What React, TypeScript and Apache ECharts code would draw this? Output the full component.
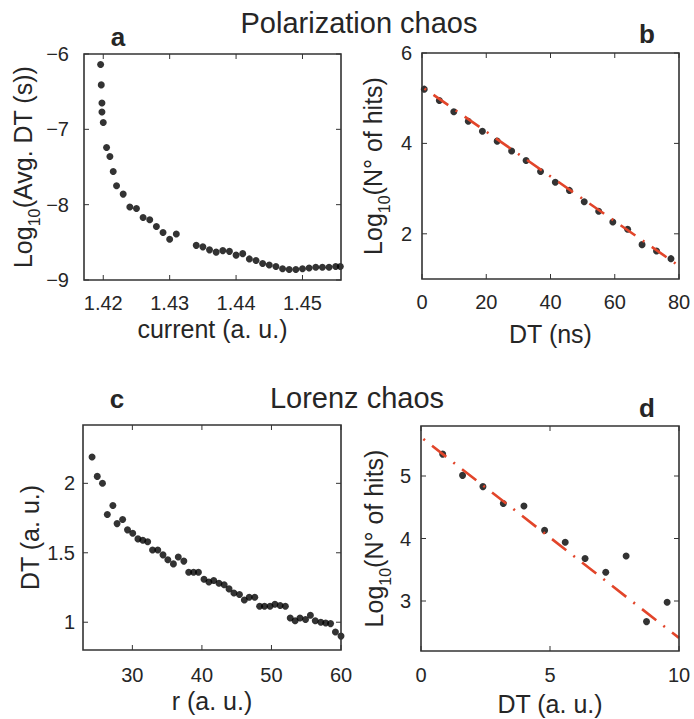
import React, { useEffect, useRef } from "react";
import * as echarts from "echarts";

// ---------- Data ----------
// Panel a: Polarization chaos, Log10(avg DT) vs current
const aCurrent = [
  1.4196, 1.4197, 1.4198, 1.4198, 1.42, 1.4205, 1.421, 1.4215, 1.422, 1.423,
  1.424, 1.425, 1.426, 1.427, 1.428, 1.429, 1.43, 1.431, 1.434, 1.435, 1.436,
  1.437, 1.438, 1.439, 1.44, 1.441, 1.442, 1.443, 1.444, 1.445, 1.446, 1.447,
  1.448, 1.449, 1.45, 1.451, 1.452, 1.453, 1.454, 1.455, 1.4557,
];
const aLogDT = [
  -6.14, -6.41, -6.65, -6.77, -6.91, -7.24, -7.36, -7.56, -7.75, -7.86, -8.03,
  -8.05, -8.17, -8.2, -8.29, -8.37, -8.46, -8.39, -8.54, -8.56, -8.6, -8.63,
  -8.61, -8.62, -8.67, -8.65, -8.72, -8.74, -8.78, -8.8, -8.82, -8.85, -8.86,
  -8.86, -8.85, -8.84, -8.83, -8.83, -8.83, -8.82, -8.82,
];

// Panel b: Polarization chaos, histogram of DT
const bDT = [0.7, 5.4, 9.9, 14.4, 18.8, 23.4, 27.9, 32.4, 36.9, 41.5, 45.9, 50.5, 55.0, 59.4, 64.0, 68.5, 73.0, 77.5];
const bLogHits = [5.2, 4.95, 4.7, 4.49, 4.27, 4.05, 3.83, 3.62, 3.38, 3.14, 2.96, 2.71, 2.5, 2.26, 2.1, 1.76, 1.62, 1.45];
const bFitX = [0, 80];
const bFitY = [5.25, 1.29];

// Panel c: Lorenz chaos, DT vs r
const cR = [
  24.2, 24.95, 25.7, 26.4, 27.2, 27.8, 28.6, 29.3, 30.05, 30.8, 31.5, 32.2,
  32.9, 33.65, 34.4, 35.1, 35.9, 36.6, 37.4, 38.1, 38.8, 39.5, 40.3, 41.0,
  41.7, 42.45, 43.2, 43.9, 44.6, 45.4, 46.1, 46.8, 47.6, 48.3, 49.0, 49.8,
  50.5, 51.25, 52.0, 52.7, 53.4, 54.1, 54.9, 55.6, 56.3, 57.1, 57.8, 58.5,
  59.2, 60.0,
];
const cDT = [
  2.19, 2.05, 2.0, 1.775, 1.84, 1.71, 1.74, 1.665, 1.64, 1.6, 1.59, 1.58,
  1.52, 1.52, 1.485, 1.45, 1.42, 1.47, 1.44, 1.36, 1.36, 1.36, 1.31, 1.29,
  1.3, 1.28, 1.27, 1.24, 1.21, 1.2, 1.16, 1.18, 1.18, 1.115, 1.115, 1.115,
  1.13, 1.12, 1.115, 1.03, 1.01, 1.03, 1.02, 1.05, 1.01, 1.0, 0.995, 0.99,
  0.93, 0.9,
];

// Panel d: Lorenz chaos, histogram of DT
const dDT = [0.84, 1.61, 2.4, 3.19, 3.99, 4.79, 5.59, 6.36, 7.16, 7.95, 8.74, 9.54];
const dLogHits = [5.35, 5.01, 4.83, 4.56, 4.52, 4.13, 3.94, 3.68, 3.46, 3.72, 2.67, 2.98];
const dFitX = [0, 10];
const dFitY = [5.62, 2.41];

// Tick values
const aXTicks = [1.42, 1.43, 1.44, 1.45];
const aYTicks = [-9, -8, -7, -6];
const bXTicks = [0, 20, 40, 60, 80];
const bYTicks = [2, 4, 6];
const cXTicks = [30, 40, 50, 60];
const cYTicks = [1, 1.5, 2];
const dXTicks = [0, 5, 10];
const dYTicks = [3, 4, 5];

// Texts
const titleTop = "Polarization chaos";
const titleBottom = "Lorenz chaos";
const panelLetters = ["a", "b", "c", "d"];
const xNames = ["current (a. u.)", "DT (ns)", "r (a. u.)", "DT (a. u.)"];
const yNames = [
  "{m|Log}{s|10}{m|(Avg. DT (s))}",
  "{m|Log}{s|10}{m|(N° of hits)}",
  "{m|DT (a. u.)}",
  "{m|Log}{s|10}{m|(N° of hits)}",
];

// ---------- Styling ----------
const FONT = "'Liberation Sans', Arial, Helvetica, sans-serif";
const INK = "#262626";
const AXIS = "#333333";
const DOT = "#000000";
const RED = "#e2452a";
const FRAME_W = 1.6;
const TICK_LEN = 5;

const pairs = (xs: number[], ys: number[]) => xs.map((x, i) => [x, ys[i]]);
const fmt = (v: number) => String(v).replace("-", "\u2212");

type PanelCfg = {
  grid: { left: number; top: number; width: number; height: number };
  xMin: number; xMax: number; yMin: number; yMax: number;
  xTicks: number[]; yTicks: number[];
  xLabelOffset: number; yLabelMargin: number;
  xNameGap: number; yNameGap: number;
};

const panels: PanelCfg[] = [
  { grid: { left: 84, top: 54, width: 257, height: 226 }, xMin: 1.4171, xMax: 1.4558, yMin: -9, yMax: -6,
    xTicks: aXTicks, yTicks: aYTicks, xLabelOffset: 23, yLabelMargin: 15, xNameGap: 36, yNameGap: 42 },
  { grid: { left: 422, top: 53, width: 257, height: 226 }, xMin: 0, xMax: 80, yMin: 1, yMax: 6,
    xTicks: bXTicks, yTicks: bYTicks, xLabelOffset: 23, yLabelMargin: 10, xNameGap: 42, yNameGap: 30 },
  { grid: { left: 83, top: 425, width: 258, height: 225 }, xMin: 22.9, xMax: 60, yMin: 0.8, yMax: 2.42,
    xTicks: cXTicks, yTicks: cYTicks, xLabelOffset: 25, yLabelMargin: 8, xNameGap: 38, yNameGap: 41 },
  { grid: { left: 421, top: 426, width: 258, height: 225 }, xMin: 0, xMax: 10, yMin: 2.2, yMax: 5.8,
    xTicks: dXTicks, yTicks: dYTicks, xLabelOffset: 24, yLabelMargin: 10, xNameGap: 40, yNameGap: 28 },
];

// Tick labels of one panel, placed through the panel's own axes
function labelSeries(i: number, p: PanelCfg) {
  return {
    type: "custom", xAxisIndex: i, yAxisIndex: i, data: [[p.xMin, p.yMin]], z: 5,
    renderItem: (_params: any, api: any) => {
      const [x0, y0] = api.coord([p.xMin, p.yMin]);
      const children: any[] = [];
      p.xTicks.forEach((v) => {
        const x = api.coord([v, p.yMin])[0];
        children.push({
          type: "text", x, y: y0 + p.xLabelOffset,
          style: { text: fmt(v), fill: INK, fontSize: 20, fontFamily: FONT, align: "center", verticalAlign: "middle" },
        });
      });
      p.yTicks.forEach((v) => {
        const y = api.coord([p.xMin, v])[1];
        children.push({
          type: "text", x: x0 - p.yLabelMargin, y,
          style: { text: fmt(v), fill: INK, fontSize: 20, fontFamily: FONT, align: "right", verticalAlign: "middle" },
        });
      });
      return { type: "group", children };
    },
  };
}

// Box and inward ticks of one panel (drawn in the overlay chart)
function frameSeries(i: number, p: PanelCfg) {
  return {
    type: "custom", xAxisIndex: i, yAxisIndex: i, data: [[p.xMin, p.yMin]],
    renderItem: (_params: any, api: any) => {
      const [x0, y0] = api.coord([p.xMin, p.yMin]);
      const [x1, y1] = api.coord([p.xMax, p.yMax]);
      const children: any[] = [
        { type: "rect", shape: { x: x0, y: y1, width: x1 - x0, height: y0 - y1 },
          style: { stroke: AXIS, lineWidth: FRAME_W, fill: "none" } },
      ];
      p.xTicks.forEach((v) => {
        const x = api.coord([v, p.yMin])[0];
        children.push({ type: "line", shape: { x1: x, y1: y0, x2: x, y2: y0 - TICK_LEN }, style: { stroke: AXIS, lineWidth: 1 } });
        children.push({ type: "line", shape: { x1: x, y1: y1, x2: x, y2: y1 + TICK_LEN }, style: { stroke: AXIS, lineWidth: 1 } });
      });
      p.yTicks.forEach((v) => {
        const y = api.coord([p.xMin, v])[1];
        children.push({ type: "line", shape: { x1: x0, y1: y, x2: x0 + TICK_LEN, y2: y }, style: { stroke: AXIS, lineWidth: 1 } });
        children.push({ type: "line", shape: { x1: x1, y1: y, x2: x1 - TICK_LEN, y2: y }, style: { stroke: AXIS, lineWidth: 1 } });
      });
      return { type: "group", children };
    },
  };
}

function baseAxes(withNames: boolean) {
  const grid: any[] = [];
  const xAxis: any[] = [];
  const yAxis: any[] = [];
  panels.forEach((p, i) => {
    grid.push({ ...p.grid, show: false });
    const hidden = { axisLine: { show: false }, axisTick: { show: false }, axisLabel: { show: false }, splitLine: { show: false } };
    xAxis.push({
      type: "value", gridIndex: i, min: p.xMin, max: p.xMax, ...hidden,
      ...(withNames
        ? { name: xNames[i], nameLocation: "middle", nameGap: p.xNameGap,
            nameTextStyle: { fontSize: 25, fontFamily: FONT, color: INK } }
        : {}),
    });
    yAxis.push({
      type: "value", gridIndex: i, min: p.yMin, max: p.yMax, ...hidden,
      ...(withNames
        ? { name: yNames[i], nameLocation: "middle", nameGap: p.yNameGap, nameRotate: 90,
            nameTextStyle: {
              fontSize: 25, fontFamily: FONT, color: INK,
              rich: {
                m: { fontSize: 25, lineHeight: i === 2 ? 25 : 38, fontFamily: FONT, color: INK },
                s: { fontSize: 16, verticalAlign: "bottom", fontFamily: FONT, color: INK },
              },
            } }
        : {}),
    });
  });
  return { grid, xAxis, yAxis };
}

function mainOption() {
  const scatter = (i: number, xs: number[], ys: number[]) => ({
    type: "scatter", xAxisIndex: i, yAxisIndex: i, data: pairs(xs, ys),
    symbol: "circle", symbolSize: 7, itemStyle: { color: DOT },
  });
  const fit = (i: number, xs: number[], ys: number[]) => ({
    type: "line", xAxisIndex: i, yAxisIndex: i, data: pairs(xs, ys),
    symbol: "none", showSymbol: false,
    lineStyle: { color: RED, width: 2.6, type: [18, 9, 2, 9], dashOffset: 24 },
  });
  const txt = (text: string, x: number, y: number, size: number, bold = false) => ({
    type: "text", x, y,
    style: {
      text, fill: INK, fontSize: size, fontFamily: FONT, fontWeight: bold ? "bold" : "normal",
      align: "center", verticalAlign: "middle",
    },
  });
  return {
    animation: false,
    ...baseAxes(true),
    series: [
      fit(1, bFitX, bFitY),
      fit(3, dFitX, dFitY),
      scatter(0, aCurrent, aLogDT),
      scatter(1, bDT, bLogHits),
      scatter(2, cR, cDT),
      scatter(3, dDT, dLogHits),
      ...panels.map((p, i) => labelSeries(i, p)),
    ],
    graphic: [
      txt(titleTop, 359, 23, 29),
      txt(titleBottom, 357, 398, 29),
      txt(panelLetters[0], 118, 37, 26, true),
      txt(panelLetters[1], 647, 34, 26, true),
      txt(panelLetters[2], 117, 399, 26, true),
      txt(panelLetters[3], 647, 408, 26, true),
    ],
  };
}

function frameOption() {
  return {
    animation: false,
    ...baseAxes(false),
    series: panels.map((p, i) => frameSeries(i, p)),
  };
}

export default function App() {
  const mainRef = useRef<HTMLDivElement>(null);
  const frameRef = useRef<HTMLDivElement>(null);
  useEffect(() => {
    if (!mainRef.current || !frameRef.current) return;
    const main = echarts.init(mainRef.current, undefined, { renderer: "svg" });
    main.setOption(mainOption() as any);
    const frame = echarts.init(frameRef.current, undefined, { renderer: "svg" });
    frame.setOption(frameOption() as any);
    return () => {
      main.dispose();
      frame.dispose();
    };
  }, []);
  const box: React.CSSProperties = { position: "absolute", left: 0, top: 0, width: 694, height: 719 };
  return (
    <div style={{ ...box, background: "#fff" }}>
      <div ref={mainRef} style={box} />
      <div ref={frameRef} style={{ ...box, pointerEvents: "none" }} />
    </div>
  );
}
